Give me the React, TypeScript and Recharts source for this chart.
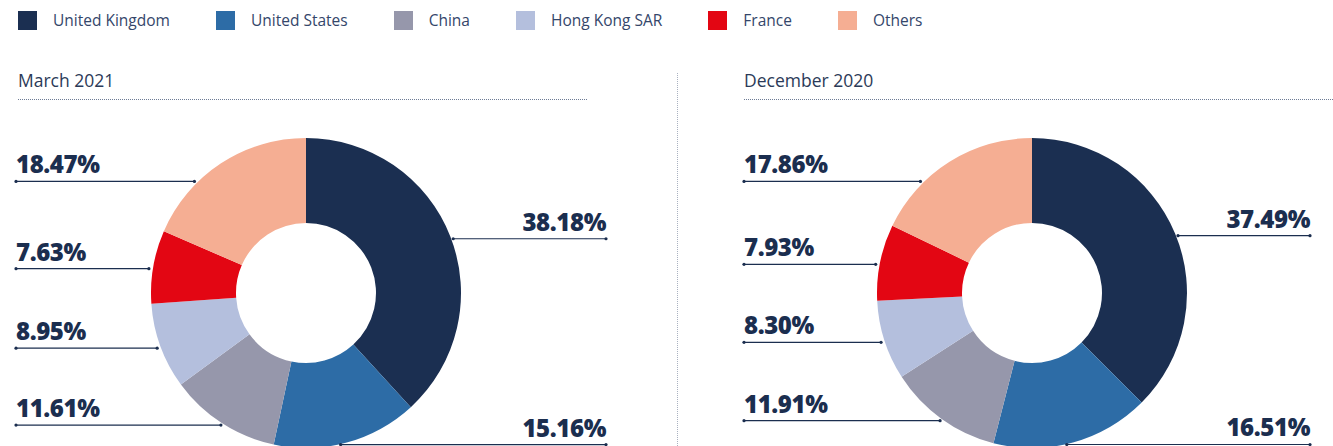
import { Pie, PieChart } from "recharts";

const categories = ["United Kingdom", "United States", "China", "Hong Kong SAR", "France", "Others"];
const march2021 = [38.18, 15.16, 11.61, 8.95, 7.63, 18.47];
const december2020 = [37.49, 16.51, 11.91, 8.3, 7.93, 17.86];
const colors = ["#1b2f51", "#2d6ca6", "#9697ab", "#b4bfdd", "#e30613", "#f5ae93"];

const ink = "#1b2e4f";
const RAD = Math.PI / 180;

const toData = (values: number[]) =>
  categories.map((name, i) => ({ name, value: values[i], fill: colors[i] }));

// label sits at the slice's mid-angle height, line runs from the ring to the text column
function makeLabel(leftX: number, rightX: number) {
  return (props: any) => {
    const { cx, cy, midAngle, outerRadius, value, index } = props;
    const r = outerRadius;
    let y = cy - r * Math.sin(midAngle * RAD) + 2;
    y = Math.max(y, cy - r * 0.72);
    const right = Math.cos(midAngle * RAD) >= 0;
    const dy = Math.min(Math.abs(y - cy), r);
    const dx = Math.sqrt(r * r - dy * dy);
    const edge = right ? cx + dx + 2 : cx - dx - 4;
    const x1 = right ? edge : leftX;
    const x2 = right ? rightX : edge;
    return (
      <g key={`lbl-${index}`}>
        <line x1={x1} y1={y} x2={x2} y2={y} stroke={ink} strokeWidth={1.2} />
        <circle cx={x1} cy={y} r={1.6} fill={ink} />
        <circle cx={x2} cy={y} r={1.6} fill={ink} />
        <text
          x={right ? rightX : leftX}
          y={y - 8}
          textAnchor={right ? "end" : "start"}
          fill={ink}
          fontSize={24}
          fontWeight={800}
          letterSpacing={-0.4}
          fontFamily="'Open Sans', sans-serif"
        >
          {`${value.toFixed(2)}%`}
        </text>
      </g>
    );
  };
}

function LegendRow() {
  return (
    <div style={{ position: "absolute", left: 18, top: 11, display: "flex", alignItems: "center" }}>
      {categories.map((c, i) => (
        <div key={c} style={{ display: "flex", alignItems: "center", marginRight: 46 }}>
          <span style={{ width: 19, height: 19, background: colors[i], display: "inline-block", marginRight: 16 }} />
          <span style={{ fontSize: 15.5, color: "#34466a", lineHeight: "19px" }}>{c}</span>
        </div>
      ))}
    </div>
  );
}

const titleStyle: React.CSSProperties = {
  position: "absolute",
  top: 68,
  fontSize: 17.5,
  color: "#2b3a58",
};

export default function App() {
  return (
    <div
      style={{
        position: "absolute",
        left: 0,
        top: 0,
        width: 1333,
        height: 446,
        overflow: "hidden",
        fontFamily: "'Open Sans', sans-serif",
        background: "#fff",
      }}
    >
      <LegendRow />
      <div style={{ ...titleStyle, left: 18 }}>March 2021</div>
      <div style={{ position: "absolute", left: 18, top: 99, width: 569, borderTop: "1px dotted #6d7b95" }} />
      <div style={{ ...titleStyle, left: 744 }}>December 2020</div>
      <div style={{ position: "absolute", left: 744, top: 99, width: 589, borderTop: "1px dotted #6d7b95" }} />
      <div style={{ position: "absolute", left: 677, top: 73, height: 373, borderLeft: "1px dotted #a9b1c0" }} />
      <PieChart
        width={1333}
        height={446}
        margin={{ top: 0, right: 0, bottom: 0, left: 0 }}
        style={{ position: "absolute", left: 0, top: 0 }}
      >
        <Pie
          data={toData(march2021)}
          dataKey="value"
          nameKey="name"
          cx={306}
          cy={293}
          innerRadius={70}
          outerRadius={155}
          startAngle={90}
          endAngle={-270}
          stroke="none"
          labelLine={false}
          label={makeLabel(16, 606)}
          isAnimationActive={false}
        />
        <Pie
          data={toData(december2020)}
          dataKey="value"
          nameKey="name"
          cx={1032}
          cy={293}
          innerRadius={70}
          outerRadius={155}
          startAngle={90}
          endAngle={-270}
          stroke="none"
          labelLine={false}
          label={makeLabel(744, 1310)}
          isAnimationActive={false}
        />
      </PieChart>
    </div>
  );
}
